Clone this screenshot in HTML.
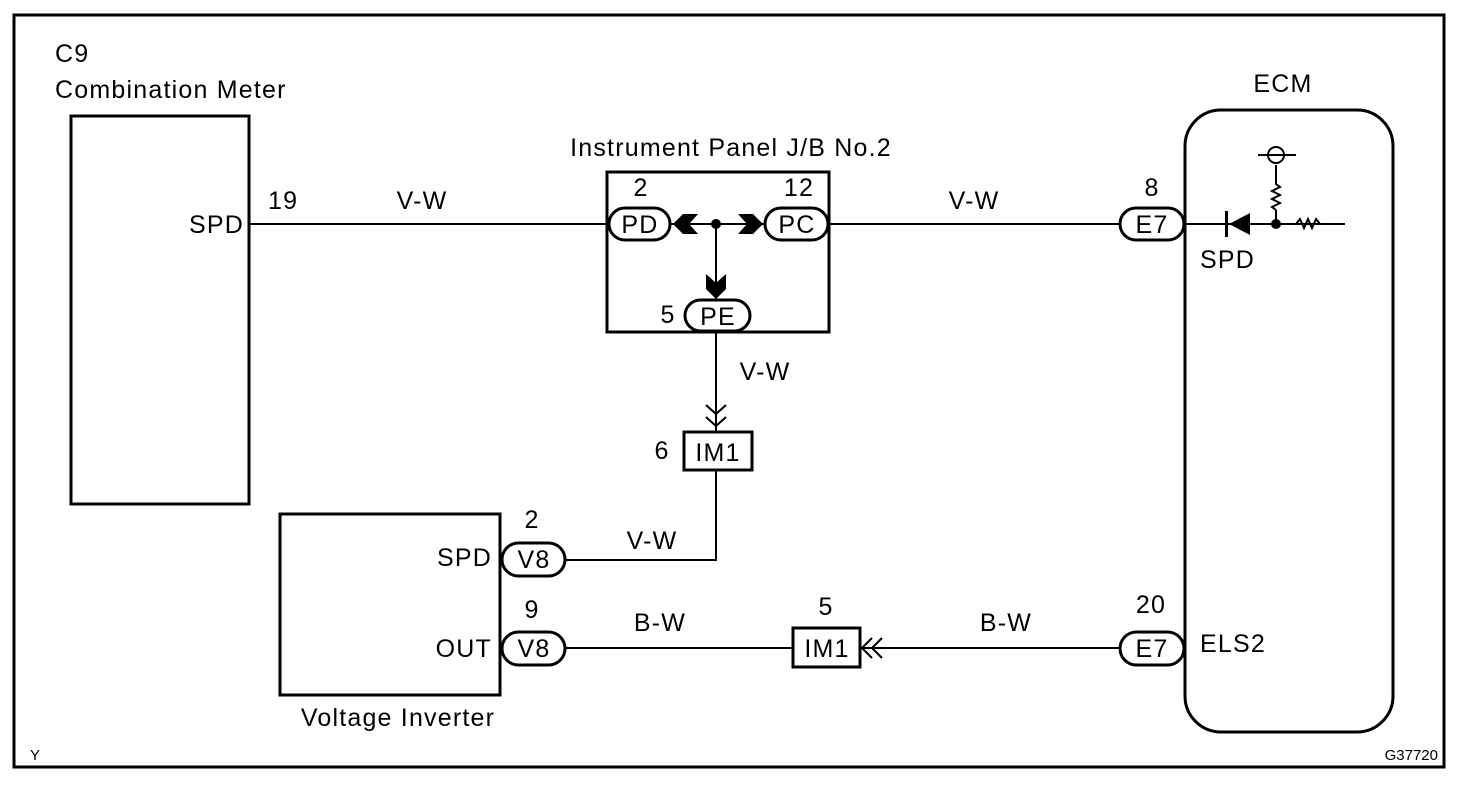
<!DOCTYPE html>
<html><head><meta charset="utf-8"><style>
html,body{margin:0;padding:0;background:#fff;}
svg{display:block;}
text{font-family:"Liberation Sans",Arial,sans-serif;fill:#000;}
.t{font-size:25px;letter-spacing:1.2px;}
</style></head><body>
<svg width="1472" height="786" viewBox="0 0 1472 786" xmlns="http://www.w3.org/2000/svg">
<rect x="0" y="0" width="1472" height="786" fill="#fff"/>
<rect x="14" y="15" width="1430" height="752" fill="none" stroke="#000" stroke-width="3"/>

<g class="t">
<text x="55" y="62">C9</text>
<text x="55" y="98">Combination Meter</text>
<text x="731" y="156" text-anchor="middle">Instrument Panel J/B No.2</text>
<text x="1283" y="92" text-anchor="middle">ECM</text>
<text x="244" y="233" text-anchor="end">SPD</text>
<text x="268" y="209">19</text>
<text x="422" y="209" text-anchor="middle">V-W</text>
<text x="974" y="209" text-anchor="middle">V-W</text>
<text x="765" y="380" text-anchor="middle">V-W</text>
<text x="652" y="549" text-anchor="middle">V-W</text>
<text x="660" y="631" text-anchor="middle">B-W</text>
<text x="1006" y="631" text-anchor="middle">B-W</text>
<text x="492" y="566" text-anchor="end">SPD</text>
<text x="492" y="657" text-anchor="end">OUT</text>
<text x="532" y="528" text-anchor="middle">2</text>
<text x="532" y="618" text-anchor="middle">9</text>
<text x="398" y="726" text-anchor="middle">Voltage Inverter</text>
<text x="662" y="459" text-anchor="middle">6</text>
<text x="826" y="615" text-anchor="middle">5</text>
<text x="1151" y="613" text-anchor="middle">20</text>
<text x="1152" y="196" text-anchor="middle">8</text>
<text x="1200" y="652">ELS2</text>
<text x="1200" y="268">SPD</text>
<text x="641" y="196" text-anchor="middle">2</text>
<text x="799" y="196" text-anchor="middle">12</text>
<text x="668" y="323" text-anchor="middle">5</text>
</g>
<text x="30" y="760" font-size="15">Y</text>
<text x="1438" y="760" font-size="15" text-anchor="end">G37720</text>

<g fill="none" stroke="#000" stroke-width="3">
<rect x="71" y="116" width="178" height="388"/>
<rect x="607" y="172" width="222" height="160"/>
<rect x="280" y="514" width="220" height="181"/>
<rect x="1185" y="110" width="208" height="622" rx="36"/>
<rect x="684" y="432" width="68" height="38"/>
<rect x="793" y="628" width="67" height="39"/>
</g>

<g fill="none" stroke="#000" stroke-width="2">
<line x1="249" y1="224" x2="608" y2="224"/>
<line x1="670" y1="224" x2="765" y2="224"/>
<line x1="828" y1="224" x2="1120" y2="224"/>
<line x1="716" y1="224" x2="716" y2="292"/>
<line x1="716" y1="332" x2="716" y2="432"/>
<polyline points="716,470 716,560 565,560"/>
<line x1="565" y1="648" x2="793" y2="648"/>
<line x1="860" y1="648" x2="1120" y2="648"/>
<line x1="1185" y1="224" x2="1345" y2="224"/>
<line x1="1276" y1="224" x2="1276" y2="210"/>
<polyline points="1276,210 1272,207 1280,203 1272,199 1280,195 1272,191 1280,187 1276,184 1276,165"/>
<polyline points="1296,224 1300,219 1304,228 1308,219 1312,228 1316,219 1320,224"/>
<circle cx="1276" cy="155" r="8"/>
<line x1="1258" y1="155" x2="1296" y2="155"/>
<polyline points="706,405 716,414 726,405"/>
<polyline points="706,417 716,426 726,417"/>
<polyline points="872,638 862,648 872,658"/>
<polyline points="882,638 872,648 882,658"/>
</g>

<g fill="#fff" stroke="#000" stroke-width="3">
<rect x="609" y="208" width="61" height="32" rx="16"/>
<rect x="765" y="208" width="63" height="32" rx="16"/>
<rect x="685" y="300" width="65" height="31" rx="15.5"/>
<rect x="502" y="543" width="63" height="33" rx="16.5"/>
<rect x="502" y="632" width="63" height="33" rx="16.5"/>
<rect x="1120" y="208" width="64" height="32" rx="16"/>
<rect x="1120" y="632" width="64" height="33" rx="16.5"/>
</g>
<g class="t" text-anchor="middle">
<text x="640" y="233">PD</text>
<text x="797" y="233">PC</text>
<text x="718" y="325">PE</text>
<text x="534" y="568">V8</text>
<text x="534" y="657">V8</text>
<text x="1152" y="233">E7</text>
<text x="1152" y="657">E7</text>
<text x="718" y="461">IM1</text>
<text x="827" y="657">IM1</text>
</g>

<g fill="#000">
<circle cx="716" cy="224" r="5"/>
<circle cx="1276" cy="224" r="5"/>
<polygon points="673,224 683,214 698,214 689,224 698,234 683,234"/>
<polygon points="763,224 753,214 738,214 747,224 738,234 753,234"/>
<polygon points="716,299 706,289 706,274 716,283 726,274 726,289"/>
<polygon points="1229,224 1250,213 1250,235"/>
<rect x="1225" y="211" width="3" height="26"/>
</g>
</svg>
</body></html>
